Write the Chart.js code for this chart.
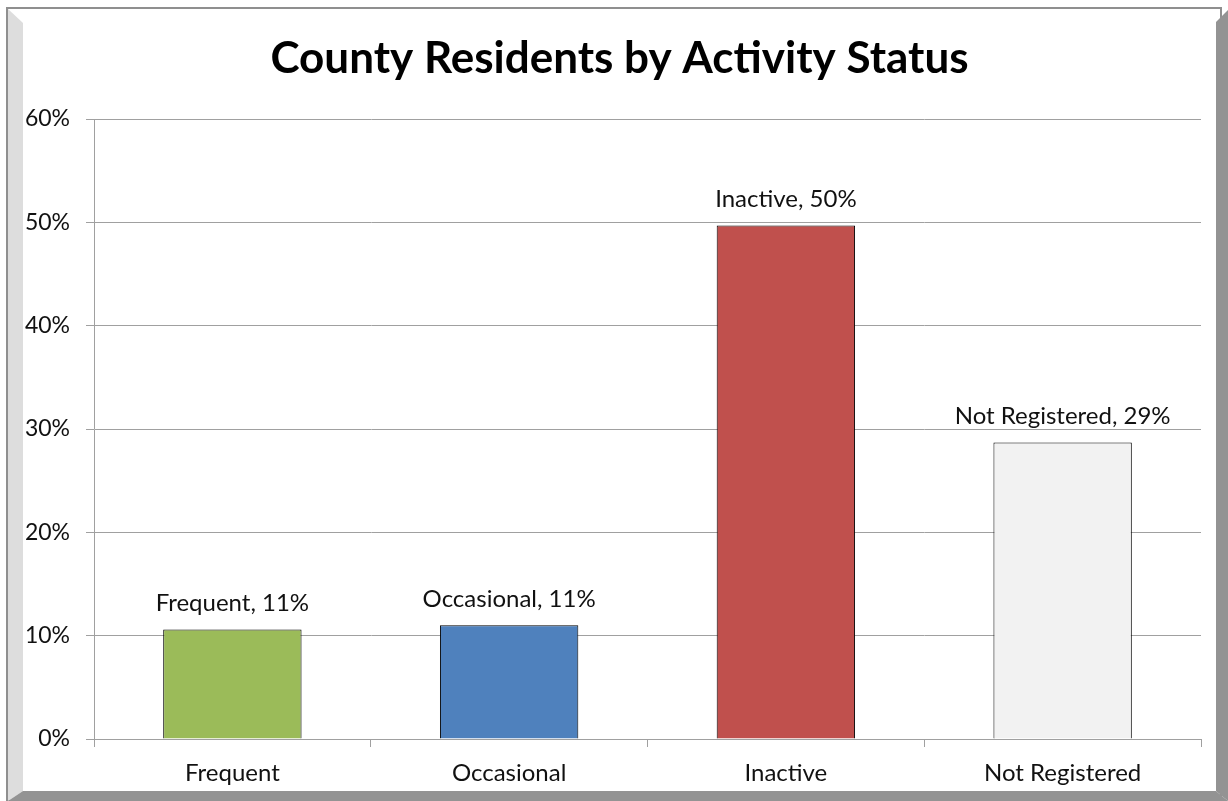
<!DOCTYPE html>
<html>
<head>
<meta charset="utf-8">
<script src="https://cdn.jsdelivr.net/npm/chart.js@4/dist/chart.umd.min.js"></script>
<style>
  html, body { margin: 0; padding: 0; background: #ffffff; }
  #wrap { width: 1228px; height: 801px; position: relative; }
</style>
</head>
<body>
<div id="wrap"><canvas id="statusChart"></canvas></div>
<script>
// 資料
const chartTitle = 'County Residents by Activity Status';
const categories = ['Frequent', 'Occasional', 'Inactive', 'Not Registered'];
const shares = [10.6, 11.0, 49.7, 28.7];
const shareLabels = ['11%', '11%', '50%', '29%'];
const barColors = ['#9bbb59', '#4f81bd', '#c0504d', '#f2f2f2'];
const yTicks = [0, 10, 20, 30, 40, 50, 60];

const FONT = 'Lato, "Open Sans", sans-serif';

// 外框 - 仿 Excel 陰影邊框
const framePlugin = {
  id: 'frame',
  beforeDraw(chart) {
    const c = chart.ctx;
    const w = chart.width, h = chart.height;
    c.save();
    c.fillStyle = '#ffffff';
    c.fillRect(0, 0, w, h);
    // 外框線
    c.strokeStyle = '#8f8f8f';
    c.lineWidth = 2;
    c.strokeRect(7, 8, w - 14, h - 8);
    // 左側淺灰斜邊
    c.fillStyle = '#dddddd';
    c.beginPath();
    c.moveTo(8, 9);
    c.lineTo(23, 23);
    c.lineTo(23, h - 10);
    c.lineTo(8, h);
    c.closePath();
    c.fill();
    // 右側深灰陰影
    c.fillStyle = '#939393';
    c.beginPath();
    c.moveTo(w - 12, 22);
    c.lineTo(w, 10);
    c.lineTo(w, h);
    c.lineTo(w - 12, h - 10);
    c.closePath();
    c.fill();
    // 底部深灰陰影
    c.beginPath();
    c.moveTo(8, h);
    c.lineTo(23, h - 10);
    c.lineTo(w - 12, h - 10);
    c.lineTo(w, h);
    c.closePath();
    c.fill();
    // 標題 - 置中於框內
    c.font = 'bold 44px ' + FONT;
    c.fillStyle = '#000000';
    c.textAlign = 'center';
    c.textBaseline = 'middle';
    c.fillText(chartTitle, (23 + w - 12) / 2, 59);
    c.restore();
  }
};

// 資料標籤
const labelPlugin = {
  id: 'barLabels',
  afterDatasetsDraw(chart) {
    const c = chart.ctx;
    const meta = chart.getDatasetMeta(0);
    c.save();
    c.font = '24px ' + FONT;
    c.fillStyle = '#111111';
    c.textAlign = 'center';
    c.textBaseline = 'alphabetic';
    meta.data.forEach((bar, i) => {
      c.fillText(categories[i] + ', ' + shareLabels[i], bar.x, bar.y - 18);
    });
    c.restore();
  }
};

new Chart(document.getElementById('statusChart'), {
  type: 'bar',
  data: {
    labels: categories,
    datasets: [{
      data: shares,
      backgroundColor: barColors,
      borderColor: '#000000',
      borderWidth: 1,
      barPercentage: 0.5,
      categoryPercentage: 1.0
    }]
  },
  options: {
    responsive: true,
    maintainAspectRatio: false,
    animation: false,
    layout: {
      padding: { left: 0, right: 27, top: 119, bottom: 0 }
    },
    plugins: {
      legend: { display: false },
      tooltip: { enabled: false },
      title: { display: false }
    },
    scales: {
      x: {
        afterFit(scale) { scale.height = 62; },
        grid: {
          offset: true,
          drawOnChartArea: false,
          drawTicks: true,
          tickLength: 8,
          color: '#a0a0a0'
        },
        border: { color: '#a0a0a0', width: 1 },
        ticks: {
          color: '#111111',
          font: { family: FONT, size: 24 },
          padding: 12
        }
      },
      y: {
        min: 0,
        max: 60,
        afterFit(scale) { scale.width = 94; },
        afterBuildTicks(scale) {
          scale.ticks = yTicks.map(v => ({ value: v }));
        },
        grid: {
          color: '#a0a0a0',
          drawTicks: true,
          tickLength: 8
        },
        border: { color: '#a0a0a0', width: 1 },
        ticks: {
          color: '#111111',
          font: { family: FONT, size: 23 },
          padding: 16,
          callback: v => v + '%'
        }
      }
    }
  },
  plugins: [framePlugin, labelPlugin]
});
</script>
</body>
</html>
